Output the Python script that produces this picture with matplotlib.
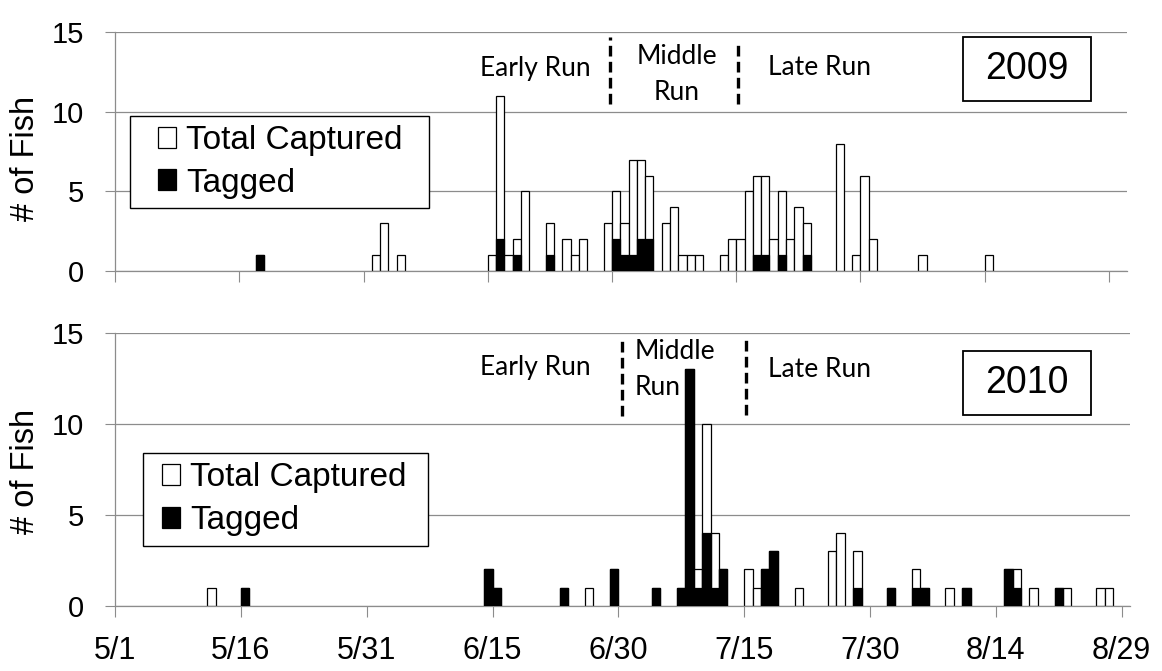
import matplotlib
matplotlib.use("Agg")
import matplotlib.pyplot as plt
from matplotlib.patches import Patch, Rectangle

# ---------------- data (day index: 0 = 5/1) ----------------
tick_days = [0, 15, 30, 45, 60, 75, 90, 105, 120]
tick_labels = ["5/1", "5/16", "5/31", "6/15", "6/30", "7/15", "7/30", "8/14", "8/29"]

days_2009 = [17, 31, 32, 34, 45, 46, 47, 48, 49, 52, 54, 55, 56, 59, 60, 61, 62, 63, 64,
             66, 67, 68, 69, 70, 73, 74, 75, 76, 77, 78, 79, 80, 81, 82, 83, 87, 89, 90, 91, 97, 105]
total_2009 = [1, 1, 3, 1, 1, 11, 1, 2, 5, 3, 2, 1, 2, 3, 5, 3, 7, 7, 6,
              3, 4, 1, 1, 1, 1, 2, 2, 5, 6, 6, 2, 5, 2, 4, 3, 8, 1, 6, 2, 1, 1]
tagged_2009 = [1, 0, 0, 0, 0, 2, 0, 1, 0, 1, 0, 0, 0, 0, 2, 1, 1, 2, 2,
               0, 0, 0, 0, 0, 0, 0, 0, 0, 1, 1, 0, 1, 0, 0, 1, 0, 0, 0, 0, 0, 0]

days_2010 = [11, 15, 44, 45, 53, 56, 59, 64, 67, 68, 69, 70, 71, 72, 75, 76, 77, 78, 81,
             85, 86, 88, 92, 95, 96, 99, 101, 106, 107, 109, 112, 113, 117, 118]
total_2010 = [1, 1, 2, 1, 1, 1, 2, 1, 1, 13, 2, 10, 4, 2, 2, 1, 2, 3, 1,
              3, 4, 3, 1, 2, 1, 1, 1, 2, 2, 1, 1, 1, 1, 1]
tagged_2010 = [0, 1, 2, 1, 1, 0, 2, 1, 1, 13, 1, 4, 1, 2, 0, 0, 2, 3, 0,
               0, 0, 1, 1, 1, 1, 0, 1, 2, 1, 0, 1, 0, 0, 0]

run_labels = ["Early Run", "Middle\nRun", "Late Run"]
years = ["2009", "2010"]
legend_labels = ["Total Captured", "Tagged"]

# ---------------- figure ----------------
GRAY = "#8c8c8c"
SANS = ["Liberation Sans", "DejaVu Sans"]
RUNF = ["Lato", "DejaVu Sans"]
plt.rcParams["font.family"] = SANS

fig = plt.figure(figsize=(11.62, 6.71), dpi=100)
ax1 = fig.add_axes([0.099, 0.5961, 0.8709, 0.3558])
ax2 = fig.add_axes([0.099, 0.0973, 0.8735, 0.4069])

def style(ax, xmax, show_xlabels):
    ax.set_xlim(0, xmax)
    ax.set_ylim(0, 15)
    ax.set_yticks([0, 5, 10, 15])
    ax.set_xticks(tick_days)
    if show_xlabels:
        ax.set_xticklabels(tick_labels, fontsize=22)
    else:
        ax.set_xticklabels([])
    ax.tick_params(axis="y", labelsize=21, length=7.5, width=0.8, color=GRAY,
                   direction="out", pad=15)
    ax.tick_params(axis="x", length=8, width=0.8, color=GRAY, direction="out", pad=14)
    ax.grid(axis="y", color=GRAY, linewidth=0.9)
    ax.set_axisbelow(True)
    for s in ["top", "right"]:
        ax.spines[s].set_visible(False)
    for s in ["left", "bottom"]:
        ax.spines[s].set_color(GRAY)
        ax.spines[s].set_linewidth(0.9)
    ax.set_ylabel("# of Fish", fontsize=23.5, va="center")

def bars(ax, days, total, tagged):
    ax.bar(days, total, width=1.0, align="edge", color="white",
           edgecolor="black", linewidth=0.9, zorder=2)
    tg_days = [d for d, t in zip(days, tagged) if t > 0]
    tg_vals = [t for t in tagged if t > 0]
    ax.bar(tg_days, tg_vals, width=1.0, align="edge", color="black",
           edgecolor="black", linewidth=0.9, zorder=3)

style(ax1, 122.18, False)
style(ax2, 121.0, True)
bars(ax1, days_2009, total_2009, tagged_2009)
bars(ax2, days_2010, total_2010, tagged_2010)
ax1.yaxis.set_label_coords(-0.0889, 0.473)
ax2.yaxis.set_label_coords(-0.0887, 0.493)

# run dividers
dash = dict(color="black", linewidth=2.4, linestyle=(0, (3.2, 1.6)), zorder=4)
ax1.plot([59.76, 59.76], [10.5, 14.7], **dash)
ax1.plot([75.17, 75.17], [10.5, 14.5], **dash)
ax2.plot([60.4, 60.4], [10.4, 14.6], **dash)
ax2.plot([75.2, 75.2], [10.5, 14.7], **dash)

rf = dict(family=RUNF, fontsize=19, color="black")
ax1.text(50.7, 12.7, run_labels[0], ha="center", va="center", **rf)
ax1.text(67.8, 12.33, run_labels[1], ha="center", va="center", linespacing=1.55, **rf)
ax1.text(85.0, 12.8, run_labels[2], ha="center", va="center", **rf)
ax2.text(50.1, 13.1, run_labels[0], ha="center", va="center", **rf)
ax2.text(61.9, 13.0, run_labels[1], ha="left", va="center", linespacing=1.55, **rf)
ax2.text(84.0, 13.0, run_labels[2], ha="center", va="center", **rf)

# year boxes
for ax, yr, (x0, y0, x1, y1) in [(ax1, years[0], (0.838, 0.712, 0.9644, 0.980)),
                                 (ax2, years[1], (0.8355, 0.6985, 0.9616, 0.934))]:
    ax.add_patch(Rectangle((x0, y0), x1 - x0, y1 - y0, transform=ax.transAxes,
                           facecolor="white", edgecolor="black", linewidth=1.3, zorder=5))
    ax.text((x0 + x1) / 2, (y0 + y1) / 2, yr, transform=ax.transAxes, ha="center",
            va="center", fontsize=27, zorder=6)

# legends (frame drawn as a box, entries by legend)
handles = [Patch(facecolor="white", edgecolor="black", linewidth=0.9),
           Patch(facecolor="black", edgecolor="black", linewidth=0.9)]
for ax, (x0, y0, x1, y1), hx in [(ax1, (0.0148, 0.265, 0.310, 0.651), 0.0425),
                                 (ax2, (0.0276, 0.220, 0.308, 0.560), 0.046)]:
    ax.add_patch(Rectangle((x0, y0), x1 - x0, y1 - y0, transform=ax.transAxes,
                           facecolor="white", edgecolor="black", linewidth=1.0, zorder=5))
    leg = ax.legend(handles, legend_labels, loc="center left",
                    bbox_to_anchor=(hx, (y0 + y1) / 2),
                    fontsize=24, frameon=False, handlelength=0.55,
                    handleheight=0.6, handletextpad=0.3, labelspacing=0.35,
                    borderpad=0, borderaxespad=0)
    leg.set_zorder(6)

fig.savefig("out.png", dpi=100)
